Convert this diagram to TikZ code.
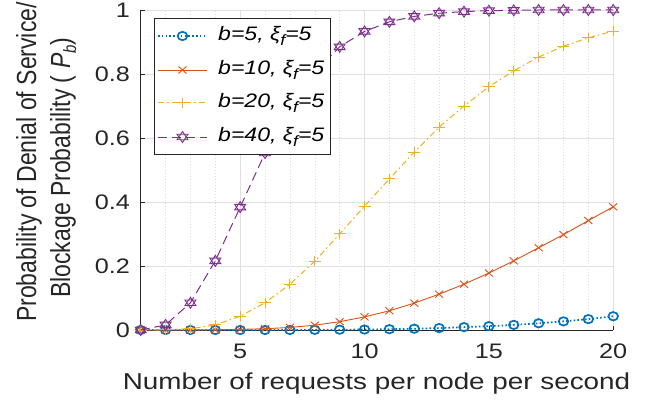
\documentclass[tikz,border=0pt]{standalone}
\usepackage{fontspec}
\setmainfont{Liberation Sans}
\definecolor{mblue}{rgb}{0,0.447,0.741}
\definecolor{morange}{rgb}{0.85,0.325,0.098}
\definecolor{myellow}{rgb}{0.929,0.694,0.125}
\definecolor{mpurple}{rgb}{0.494,0.184,0.556}
\definecolor{axgray}{gray}{0.15}
\definecolor{gridc}{gray}{0.88}
\newcommand{\lsub}[1]{\raisebox{-5pt}{\fontsize{15}{15}\selectfont #1}}
\tikzset{
  ticklab/.style={font=\fontsize{21}{21}\selectfont, text=axgray, inner sep=0pt, xscale=1.2},
  axlab/.style={font=\fontsize{23}{23}\selectfont, text=axgray, inner sep=0pt},
  legtext/.style={font=\fontsize{19.5}{19.5}\selectfont\itshape, text=black, anchor=west, inner sep=0pt, xscale=1.18},
  majgrid/.style={gridc, line width=0.6pt},
  mingrid/.style={gray!28, line width=0.5pt, dash pattern=on 1pt off 2pt},
  sblue/.style={mblue, line width=1.7pt, dash pattern=on 1.6pt off 2.2pt},
  sorange/.style={morange, line width=0.9pt},
  syellow/.style={myellow, line width=1pt, dash pattern=on 6pt off 3pt on 1.5pt off 3pt},
  spurple/.style={mpurple, line width=1pt, dash pattern=on 9pt off 5pt},
  circmark/.pic={\draw[mblue, line width=1.7pt, solid] (0pt,0pt) ellipse[x radius=4.8pt, y radius=4.2pt];},
  crossmark/.pic={\draw[morange, line width=0.9pt, solid] (-4pt,-3.5pt)--(4pt,3.5pt) (-4pt,3.5pt)--(4pt,-3.5pt);},
  plusmark/.pic={\draw[myellow, line width=1pt, solid] (-6pt,0pt)--(6pt,0pt) (0pt,-5pt)--(0pt,5pt);},
  hexmark/.pic={\draw[mpurple, line width=0.9pt, solid, line join=miter, xscale=1.15] (90:5.5pt)--(210:5.5pt)--(330:5.5pt)--cycle (270:5.5pt)--(30:5.5pt)--(150:5.5pt)--cycle;}
}
\begin{document}
\begin{tikzpicture}[x=1pt,y=1pt]
\useasboundingbox[fill=white] (0,0) rectangle (657,400);
\def\dataA{1/0,2/0,3/0,4/0,5/0,6/0,7/0,8/0.0005,9/0.001,10/0.0015,11/0.0025,12/0.004,13/0.006,14/0.009,15/0.012,16/0.016,17/0.021,18/0.027,19/0.034,20/0.043}
\def\dataB{1/0,2/0,3/0,4/0.001,5/0.002,6/0.004,7/0.008,8/0.015,9/0.026,10/0.041,11/0.06,12/0.084,13/0.112,14/0.143,15/0.178,16/0.216,17/0.257,18/0.298,19/0.342,20/0.385}
\def\dataC{1/0,2/0.001,3/0.004,4/0.016,5/0.043,6/0.085,7/0.143,8/0.215,9/0.3,10/0.387,11/0.472,12/0.556,13/0.634,14/0.70,15/0.76,16/0.81,17/0.853,18/0.887,19/0.913,20/0.934}
\def\dataD{1/0,2/0.016,3/0.085,4/0.216,5/0.384,6/0.553,7/0.695,8/0.805,9/0.885,10/0.933,11/0.963,12/0.98,13/0.99,14/0.995,15/0.998,16/0.999,17/1,18/1,19/1,20/1}
\begin{scope}[shift={(115.83pt,70pt)}, x=24.87pt, y=320pt]
  % grid
  \foreach \gx in {2,3,4,6,7,8,9,11,12,13,14,16,17,18,19}
    \draw[mingrid] (\gx,0) -- (\gx,1);
  \foreach \gx in {5,10,15,20}
    \draw[majgrid] (\gx,0) -- (\gx,1);
  \foreach \gy in {0.2,0.4,0.6,0.8,1}
    \draw[majgrid] (1,\gy) -- (20,\gy);
  % axes and ticks
  \draw[axgray, line width=0.6pt] (1,1) -- (1,0) -- (20,0);
  \foreach \gy/\lab in {0/0,0.2/0.2,0.4/0.4,0.6/0.6,0.8/0.8,1/1} {
    \draw[axgray, line width=0.6pt] (1,\gy) -- ++(4.5pt,0pt);
    \node[ticklab, anchor=east] (yt\lab) at ([xshift=-10.5pt]1,\gy) {\lab};
  }
  \foreach \gx in {5,10,15,20} {
    \draw[axgray, line width=0.6pt] (\gx,0) -- ++(0pt,4.5pt);
    \node[ticklab, anchor=north] (xt\gx) at ([yshift=-14pt]\gx,0) {\gx};
  }
  % b = 5
  \draw[sblue] (1,0) foreach \x/\y in \dataA { -- (\x,\y) };
  \foreach \x/\y in \dataA \pic at (\x,\y) {circmark};
  % b = 10
  \draw[sorange] (1,0) foreach \x/\y in \dataB { -- (\x,\y) };
  \foreach \x/\y in \dataB \pic at (\x,\y) {crossmark};
  % b = 20
  \draw[syellow] (1,0) foreach \x/\y in \dataC { -- (\x,\y) };
  \foreach \x/\y in \dataC \pic at (\x,\y) {plusmark};
  % b = 40
  \draw[spurple] (1,0) foreach \x/\y in \dataD { -- (\x,\y) };
  \foreach \x/\y in \dataD \pic at (\x,\y) {hexmark};
\end{scope}
% legend
\node[draw=axgray, fill=white, line width=0.6pt, minimum width=176pt, minimum height=136pt, anchor=north west, inner sep=0pt] (legbox) at (154,382) {};
\coordinate (la) at (158,364); \coordinate (lb) at (158,330);
\coordinate (lc) at (158,297); \coordinate (ld) at (158,263);
\draw[sblue] (la) -- ++(49pt,0pt);
\pic at ([xshift=24.5pt]la) {circmark};
\node[legtext] (ta) at ([xshift=60pt]la) {b=5, ξ\lsub{f}=5};
\draw[sorange] (lb) -- ++(49pt,0pt);
\pic at ([xshift=24.5pt]lb) {crossmark};
\node[legtext] (tb) at ([xshift=60pt]lb) {b=10, ξ\lsub{f}=5};
\draw[syellow] (lc) -- ++(49pt,0pt);
\pic at ([xshift=24.5pt]lc) {plusmark};
\node[legtext] (tc) at ([xshift=60pt]lc) {b=20, ξ\lsub{f}=5};
\draw[spurple] (ld) -- ++(49pt,0pt);
\pic at ([xshift=24.5pt]ld) {hexmark};
\node[legtext] (td) at ([xshift=60pt]ld) {b=40, ξ\lsub{f}=5};
% axis labels
\node[axlab, xscale=1.21] (xlab) at (376.5,16) {Number of requests per node per second};
\node[axlab, rotate=90, yscale=1.2, anchor=base west] (ylab1) at (36,78) {Probability of Denial of Service/};
\node[axlab, rotate=90, yscale=1.2, anchor=base west] (ylab2) at (70,102) {Blockage Probability ( \textit{P}\lsub{\textit{b}})};
\end{tikzpicture}
\end{document}
